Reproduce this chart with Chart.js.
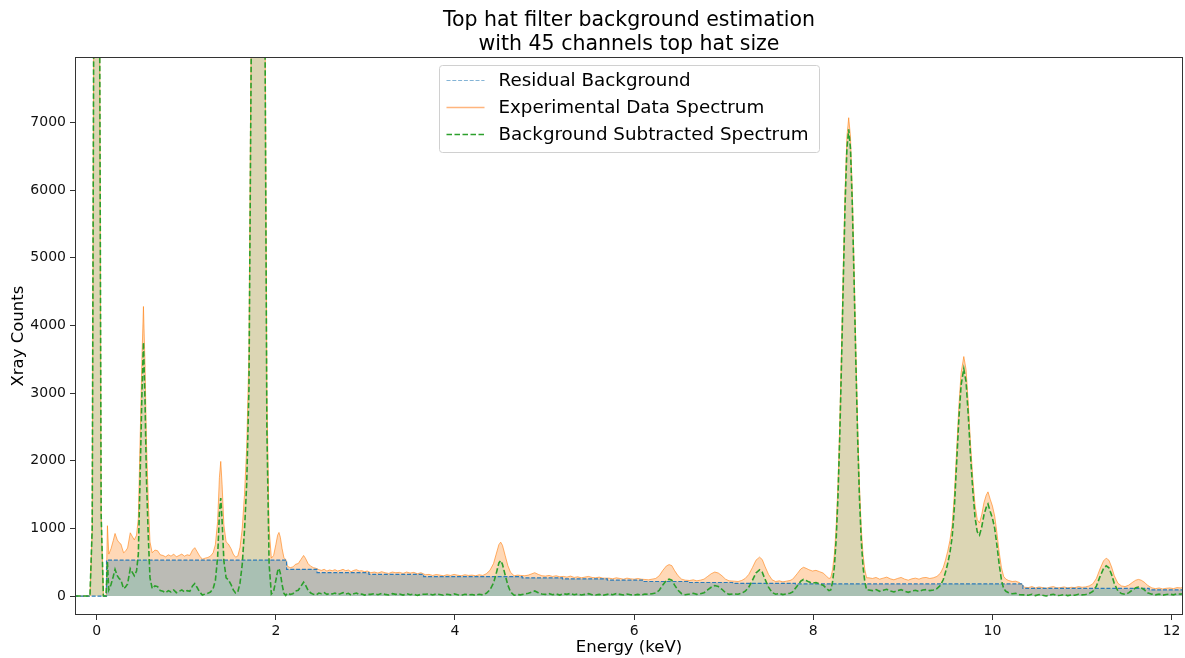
<!DOCTYPE html>
<html><head><meta charset="utf-8">
<script src="https://cdn.jsdelivr.net/npm/chart.js@4.4.1/dist/chart.umd.min.js"></script>
<style>html,body{margin:0;padding:0;background:#fff;}#wrap{width:1185px;height:658px;}</style>
</head><body><div id="wrap"><canvas id="c" width="1185" height="658"></canvas></div>
<script>
const titleLines = ['Top hat filter background estimation', 'with 45 channels top hat size'];
const xLabel = 'Energy (keV)';
const yLabel = 'Xray Counts';
const seriesLabels = ['Residual Background', 'Experimental Data Spectrum', 'Background Subtracted Spectrum'];
const xTicks = [0, 2, 4, 6, 8, 10, 12];
const yTicks = [0, 1000, 2000, 3000, 4000, 5000, 6000, 7000];

// residual background: step breakpoints (keV) and counts
const bgEnergy = [-0.25, 0.11, 2.12, 2.46, 3.04, 3.65, 4.75, 5.2, 5.7, 6.1, 6.6, 7.1, 7.8, 10.34, 11.75, 12.2];
const bgCounts = [0, 530, 395, 345, 320, 288, 270, 255, 235, 215, 200, 188, 180, 113, 92, 92];

const energy = [
-0.24,-0.15,-0.1,-0.075,-0.05,-0.025,0,0.025,0.05,0.075,0.105,
0.12,0.135,0.16,0.185,0.205,0.23,0.25,0.27,0.30,0.32,
0.345,0.375,0.40,0.42,0.445,0.465,0.49,0.505,0.522,0.54,
0.555,0.575,0.595,0.62,0.65,0.68,0.71,0.74,0.77,0.80,
0.83,0.86,0.89,0.92,0.95,0.98,1.01,1.04,1.07,1.095,
1.12,1.15,1.18,1.21,1.24,1.27,1.30,1.325,1.35,1.37,
1.385,1.40,1.42,1.445,1.47,1.50,1.525,1.55,1.575,1.60,
1.625,1.65,1.675,1.70,1.725,1.75,1.775,1.80,1.825,1.85,
1.875,1.90,1.925,1.95,1.975,2.0,2.02,2.035,2.05,2.07,
2.09,2.11,2.13,2.16,2.19,2.22,2.25,2.28,2.31,2.33,
2.36,2.39,2.42,2.45,2.48,2.51,2.54,2.57,2.60,2.63,
2.66,2.69,2.72,2.75,2.78,2.81,2.84,2.87,2.90,2.93,
2.96,2.99,3.02,3.06,3.10,3.14,3.18,3.22,3.26,3.30,
3.34,3.38,3.42,3.46,3.50,3.54,3.58,3.62,3.67,3.71,
3.75,3.79,3.83,3.87,3.91,3.95,3.99,4.03,4.07,4.11,
4.15,4.19,4.23,4.27,4.31,4.35,4.39,4.43,4.46,4.49,
4.51,4.53,4.56,4.59,4.62,4.66,4.70,4.73,4.78,4.82,
4.86,4.89,4.93,4.97,5.01,5.05,5.09,5.13,5.17,5.21,
5.25,5.29,5.33,5.37,5.41,5.45,5.49,5.53,5.57,5.61,
5.65,5.72,5.76,5.80,5.84,5.88,5.92,5.96,6.00,6.04,
6.08,6.12,6.16,6.20,6.24,6.28,6.32,6.36,6.39,6.42,
6.45,6.49,6.53,6.57,6.62,6.66,6.70,6.74,6.78,6.82,
6.86,6.90,6.94,6.98,7.02,7.06,7.12,7.16,7.20,7.24,
7.28,7.32,7.36,7.40,7.43,7.46,7.50,7.54,7.58,7.62,
7.66,7.70,7.74,7.77,7.82,7.86,7.89,7.92,7.95,7.99,
8.03,8.07,8.11,8.15,8.175,8.195,8.215,8.235,8.255,8.275,
8.295,8.315,8.335,8.355,8.375,8.395,8.415,8.435,8.455,8.475,
8.495,8.515,8.535,8.555,8.575,8.595,8.62,8.66,8.70,8.74,
8.78,8.82,8.86,8.90,8.94,8.98,9.02,9.06,9.10,9.14,
9.18,9.22,9.26,9.30,9.34,9.38,9.42,9.45,9.475,9.50,
9.525,9.55,9.575,9.60,9.625,9.65,9.68,9.705,9.73,9.755,
9.78,9.805,9.83,9.855,9.88,9.905,9.93,9.95,9.975,10.0,
10.025,10.05,10.075,10.10,10.125,10.15,10.18,10.22,10.26,10.30,
10.36,10.40,10.44,10.48,10.52,10.56,10.60,10.64,10.68,10.72,
10.76,10.80,10.84,10.88,10.92,10.96,11.00,11.04,11.08,11.12,
11.16,11.20,11.24,11.27,11.30,11.33,11.36,11.40,11.44,11.48,
11.52,11.56,11.60,11.63,11.66,11.70,11.73,11.78,11.82,11.86,
11.90,11.94,11.98,12.02,12.06,12.10,12.14
];

const expCounts = [
0,0,0,0,1000,12000,30000,12000,1200,0,0,
1040,620,700,820,925,830,790,770,640,660,
710,935,875,830,900,1150,2600,3500,4280,3400,
2300,1450,800,640,680,670,610,600,580,610,
590,620,580,600,620,590,610,600,680,715,
660,590,545,560,570,590,640,760,1100,1750,
1990,1650,1050,800,770,700,620,575,590,720,
1000,1500,2200,3600,8500,25000,42000,45000,38000,24000,
10000,3000,1000,560,600,760,900,940,870,700,
570,540,440,420,430,470,480,540,600,560,
480,440,420,410,390,380,395,370,385,375,
390,370,380,395,375,385,360,380,390,370,
375,360,370,345,355,340,360,345,335,355,
345,350,335,355,340,350,330,345,315,320,
305,318,310,300,315,305,320,308,300,315,
305,310,300,315,305,330,380,480,620,760,
797,750,600,450,350,300,310,305,300,310,
330,345,320,300,295,305,290,300,285,290,
280,295,275,285,270,280,290,275,270,280,
265,265,255,270,260,250,265,255,250,260,
250,245,240,250,260,300,380,445,465,450,
380,300,250,235,230,240,225,235,250,290,
330,355,340,300,250,225,220,215,230,260,
320,420,530,575,540,440,320,240,215,225,
210,220,230,250,330,400,425,410,390,370,
380,360,340,290,260,270,390,615,1010,1635,
2520,3640,4855,5985,6790,7070,6790,5985,4855,3640,
2520,1635,1010,615,390,270,270,260,275,250,
265,280,255,240,260,275,250,235,255,265,
250,270,275,260,270,290,340,420,530,660,
820,1050,1500,2150,2800,3300,3540,3350,2850,2250,
1750,1350,1130,1080,1200,1380,1490,1540,1430,1330,
1180,930,650,420,290,250,230,215,220,200,
130,125,140,120,135,125,115,130,140,120,
125,135,120,130,125,140,130,135,150,180,
260,400,520,560,530,430,300,190,150,140,
160,200,235,246,235,200,160,120,110,120,
105,115,120,110,125,120,130
];

const subCounts = [
0,0,0,0,1000,12000,30000,12000,1200,0,0,
510,90,170,290,395,300,260,240,110,130,
180,405,345,300,370,620,2070,2970,3750,2870,
1770,920,270,110,150,140,80,70,50,80,
60,90,50,70,90,60,80,70,150,185,
130,60,15,30,40,60,110,230,570,1220,
1450,1120,520,270,240,170,90,45,60,190,
470,970,1670,3070,7970,24470,41470,44470,37470,23470,
9470,2470,470,30,70,230,370,410,340,170,
40,10,45,25,35,75,85,145,205,165,
85,45,25,15,45,35,50,25,40,30,
45,25,35,50,30,40,15,35,45,25,
30,15,25,25,35,20,40,25,15,35,
25,30,15,35,20,30,10,25,27,32,
17,30,22,12,27,17,32,20,12,27,
17,22,12,27,17,42,92,192,332,490,
525,470,312,162,62,12,22,17,30,40,
60,75,50,30,25,35,20,30,15,35,
25,40,20,30,15,25,35,20,15,25,
10,30,20,35,25,15,30,20,15,25,
15,30,25,35,45,85,165,230,250,235,
165,85,35,20,30,40,25,35,50,90,
130,155,140,100,50,25,32,27,42,72,
132,232,342,387,352,252,132,52,27,37,
22,32,42,62,150,220,245,230,210,190,
200,180,160,110,80,90,210,435,830,1455,
2340,3460,4675,5805,6610,6900,6610,5805,4675,3460,
2340,1455,830,435,210,90,90,80,95,70,
85,100,75,60,80,95,70,55,75,85,
70,90,95,80,90,110,160,240,350,480,
640,870,1320,1970,2620,3120,3360,3170,2670,2070,
1570,1170,950,900,1020,1200,1310,1360,1250,1150,
1000,750,470,240,110,70,50,35,40,20,
17,12,27,7,22,12,2,17,27,7,
12,22,7,17,12,27,17,22,37,67,
147,287,407,447,417,317,187,77,37,27,
47,87,122,133,122,87,47,28,18,28,
13,23,28,18,33,28,38
];

const FONT = 'DejaVu Sans';

const framePlugin = {
  id: 'frame',
  afterDatasetsDraw(chart) {
    const {ctx, chartArea: a} = chart;
    ctx.save();
    ctx.strokeStyle = '#333';
    ctx.lineWidth = 1;
    ctx.strokeRect(Math.round(a.left) + 0.5, Math.round(a.top) + 0.5, Math.round(a.right - a.left) - 1, Math.round(a.bottom - a.top) - 1);
    ctx.restore();
  }
};

const legendPlugin = {
  id: 'mplLegend',
  afterDraw(chart) {
    const {ctx, chartArea: a} = chart;
    const w = 380, h = 87, r = 3;
    const x0 = Math.round((a.left + a.right) / 2 - w / 2) + 0.5;
    const y0 = Math.round(a.top) + 8.5;
    ctx.save();
    ctx.beginPath();
    ctx.moveTo(x0 + r, y0);
    ctx.lineTo(x0 + w - r, y0); ctx.arcTo(x0 + w, y0, x0 + w, y0 + r, r);
    ctx.lineTo(x0 + w, y0 + h - r); ctx.arcTo(x0 + w, y0 + h, x0 + w - r, y0 + h, r);
    ctx.lineTo(x0 + r, y0 + h); ctx.arcTo(x0, y0 + h, x0, y0 + h - r, r);
    ctx.lineTo(x0, y0 + r); ctx.arcTo(x0, y0, x0 + r, y0, r);
    ctx.closePath();
    ctx.fillStyle = 'rgba(255,255,255,0.8)';
    ctx.fill();
    ctx.strokeStyle = '#d0d0d0';
    ctx.lineWidth = 1;
    ctx.stroke();
    chart.data.datasets.forEach((ds, i) => {
      const yy = y0 + 15 + i * 27;
      ctx.beginPath();
      ctx.setLineDash(ds.legendDash || []);
      ctx.strokeStyle = ds.legendColor || ds.borderColor;
      ctx.lineWidth = ds.legendWidth || ds.borderWidth;
      ctx.moveTo(x0 + 7, yy);
      ctx.lineTo(x0 + 45, yy);
      ctx.stroke();
      ctx.setLineDash([]);
      ctx.fillStyle = '#000';
      ctx.font = '18.3px "' + FONT + '"';
      ctx.textBaseline = 'middle';
      ctx.textAlign = 'left';
      ctx.fillText(ds.label, x0 + 59, yy + 1);
    });
    ctx.restore();
  }
};

const pts = (xs, ys) => xs.map((x, i) => ({x: x, y: ys[i]}));

new Chart(document.getElementById('c'), {
  type: 'line',
  data: {
    datasets: [
      {
        label: seriesLabels[0],
        data: pts(bgEnergy, bgCounts),
        stepped: true,
        borderColor: '#2b7bba',
        legendColor: 'rgba(31,119,180,0.55)',
        borderWidth: 1.2,
        borderDash: [4, 1.8],
        legendDash: [4, 1.8],
        backgroundColor: 'rgba(31,119,180,0.3)',
        fill: 'origin',
        pointRadius: 0,
        order: 2
      },
      {
        label: seriesLabels[1],
        data: pts(energy, expCounts),
        borderColor: 'rgba(255,127,14,0.6)',
        legendColor: 'rgba(255,150,70,0.7)',
        legendWidth: 1.3,
        borderWidth: 1,
        backgroundColor: 'rgba(255,127,14,0.3)',
        fill: 'origin',
        pointRadius: 0,
        order: 3
      },
      {
        label: seriesLabels[2],
        data: pts(energy, subCounts),
        borderColor: '#2ca02c',
        borderWidth: 1.6,
        borderDash: [5.5, 2.5],
        legendDash: [5.5, 2.5],
        backgroundColor: 'rgba(115,209,171,0.25)',
        fill: 'origin',
        pointRadius: 0,
        order: 1
      }
    ]
  },
  options: {
    responsive: false,
    animation: false,
    events: [],
    layout: {padding: {left: 0, right: 2, top: 0, bottom: 0}},
    elements: {line: {tension: 0}},
    plugins: {
      legend: {display: false},
      tooltip: {enabled: false},
      filler: {drawTime: 'beforeDatasetsDraw'},
      title: {
        display: true,
        text: titleLines,
        fullSize: false,
        color: '#000',
        font: {family: FONT, size: 20.5, weight: 'normal', lineHeight: 1.15},
        padding: {top: 9, bottom: 1}
      }
    },
    scales: {
      x: {
        type: 'linear',
        min: -0.242,
        max: 12.127,
        afterBuildTicks: (ax) => { ax.ticks = xTicks.map(v => ({value: v})); },
        afterFit: (s) => { s.height = 43; },
        ticks: {
          color: '#111', font: {family: FONT, size: 14}, padding: 3,
          maxRotation: 0, autoSkip: false, callback: (v) => String(v)
        },
        grid: {display: true, drawOnChartArea: false, drawTicks: true, tickLength: 5, tickColor: '#333', tickWidth: 1},
        border: {display: false},
        title: {display: true, text: xLabel, color: '#000', font: {family: FONT, size: 16.5}, padding: {top: 0, bottom: 0}}
      },
      y: {
        type: 'linear',
        min: -280,
        max: 7965,
        afterBuildTicks: (ax) => { ax.ticks = yTicks.map(v => ({value: v})); },
        afterFit: (s) => { s.width = 75; },
        ticks: {
          color: '#111', font: {family: FONT, size: 14}, padding: 4,
          autoSkip: false, callback: (v) => String(v)
        },
        grid: {display: true, drawOnChartArea: false, drawTicks: true, tickLength: 5, tickColor: '#333', tickWidth: 1},
        border: {display: false},
        title: {display: true, text: yLabel, color: '#000', font: {family: FONT, size: 16.5}, padding: {top: 9, bottom: 2}}
      }
    }
  },
  plugins: [framePlugin, legendPlugin]
});
</script>
</body></html>
